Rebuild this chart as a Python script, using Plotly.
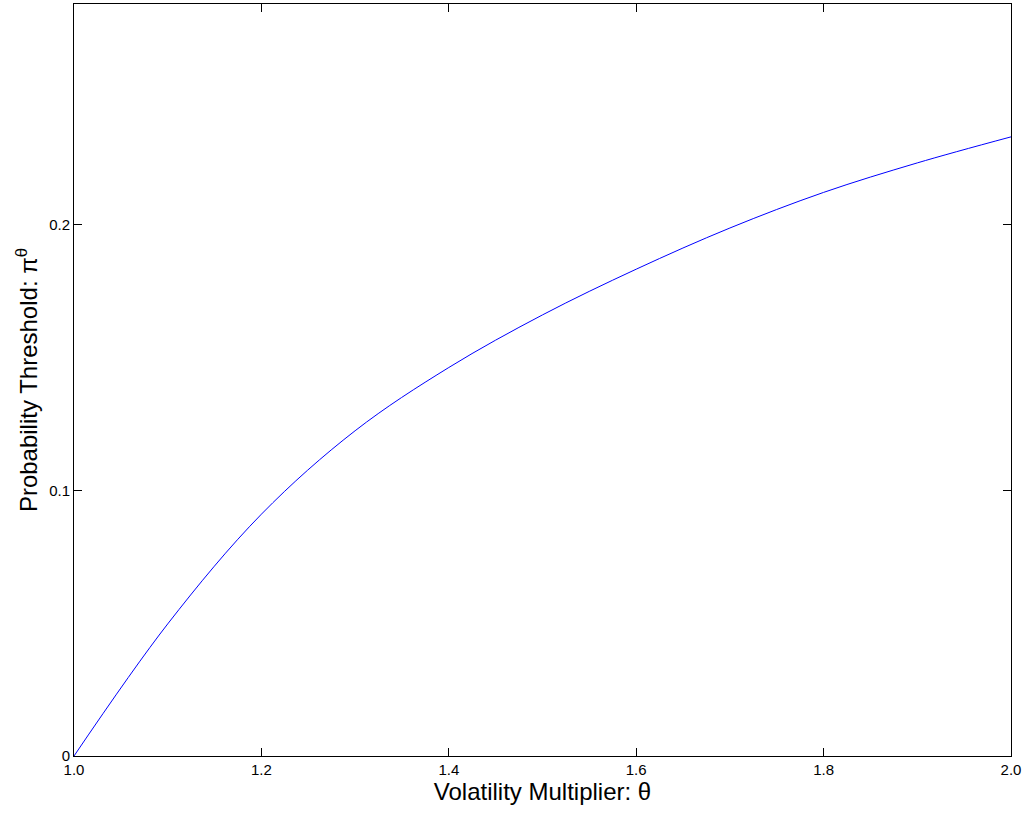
import plotly.graph_objects as go

theta = [1.0, 1.1, 1.2, 1.3, 1.4, 1.5, 1.6, 1.7, 1.8, 1.9, 2.0]
pi_theta = [0.0, 0.0497, 0.0910, 0.1224, 0.1462, 0.1660, 0.1832, 0.1987,
            0.2121, 0.2232, 0.2330]

x_ticks = [1.0, 1.2, 1.4, 1.6, 1.8, 2.0]
x_tick_text = ["1.0", "1.2", "1.4", "1.6", "1.8", "2.0"]
y_ticks = [0, 0.1, 0.2]
y_tick_text = ["0", "0.1", "0.2"]

fig = go.Figure()
fig.add_trace(go.Scatter(x=theta, y=pi_theta, mode="lines",
                         line=dict(color="#0000ff", width=1, shape="spline", smoothing=1.0),
                         showlegend=False))

font = "Liberation Sans, Arial, Helvetica, sans-serif"
axis_common = dict(showline=True, linecolor="black", linewidth=1, mirror="ticks",
                   ticks="inside", ticklen=8, tickcolor="black", showgrid=False,
                   zeroline=False, tickfont=dict(family=font, size=15, color="black"))

fig.update_layout(
    width=1029, height=813,
    margin=dict(l=74, r=18, t=4, b=57),
    paper_bgcolor="white", plot_bgcolor="white",
    xaxis=dict(range=[1.0, 2.0], tickvals=x_ticks, ticktext=x_tick_text,
               title=dict(text="Volatility Multiplier: θ", standoff=4,
                          font=dict(family=font, size=24, color="black")),
               **axis_common),
    yaxis=dict(range=[0, 0.283], tickvals=y_ticks, ticktext=y_tick_text,
               title=dict(text="Probability Threshold: π<sup>θ</sup>", standoff=4,
                          font=dict(family=font, size=24, color="black")),
               **axis_common),
)

fig.write_html("out.html", config={"displayModeBar": False},
               post_script="document.body.style.margin='0';")
